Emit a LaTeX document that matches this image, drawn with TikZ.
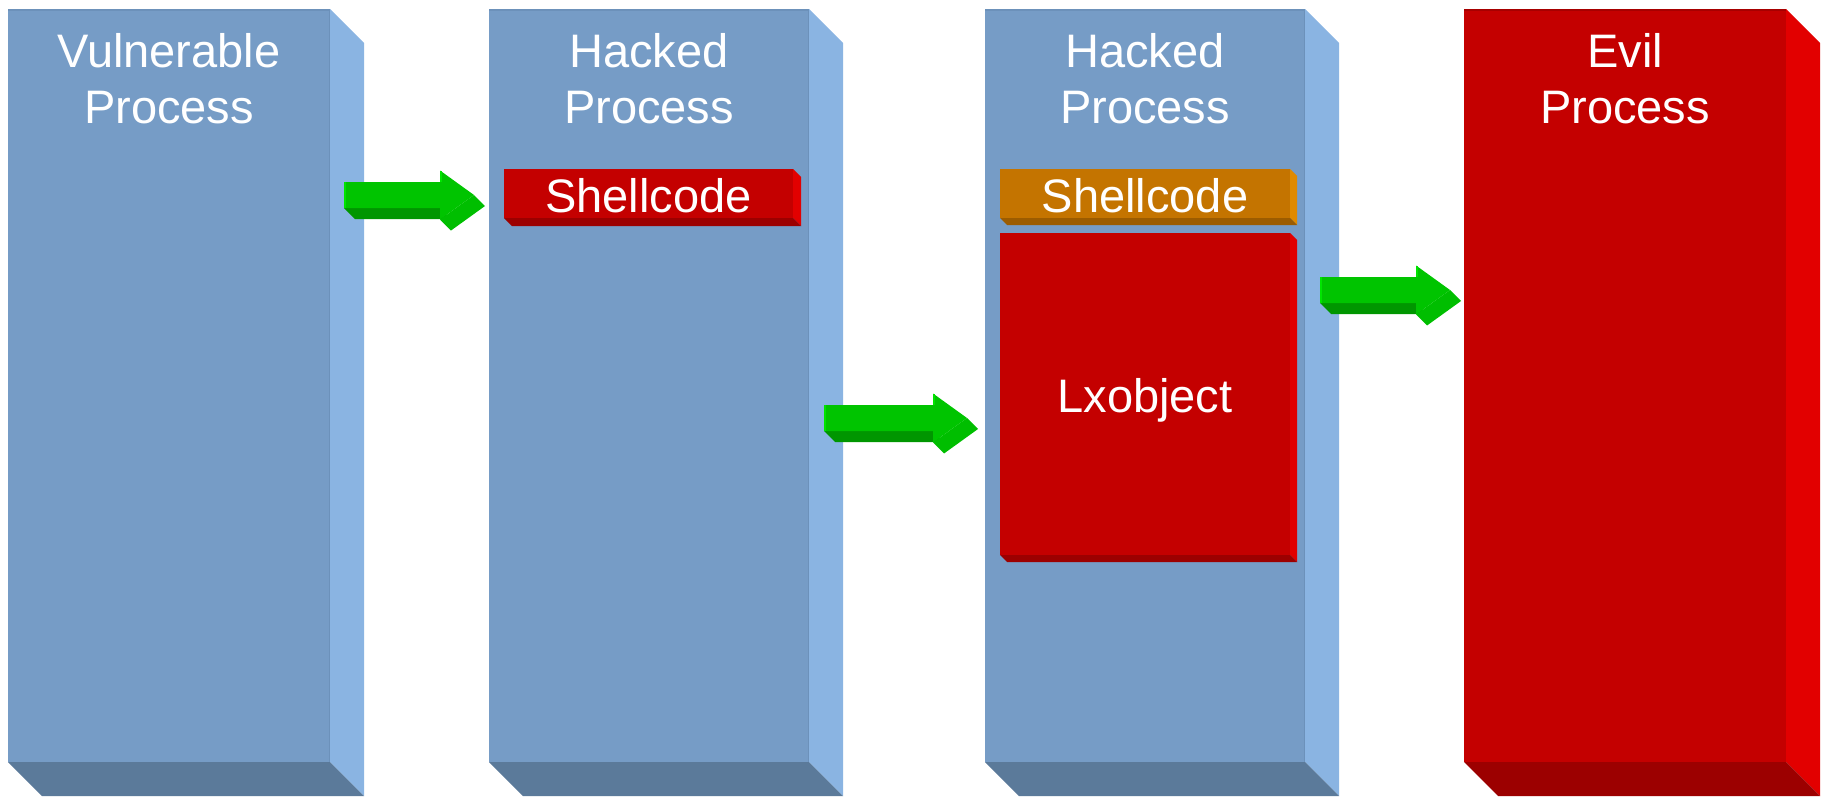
\documentclass[tikz,border=0pt]{standalone}
\usepackage{fontspec}
\setmainfont{Liberation Sans}
\definecolor{bfront}{HTML}{769CC6}
\definecolor{bside}{HTML}{8AB4E2}
\definecolor{bbot}{HTML}{5B7A9A}
\definecolor{bline}{HTML}{6C91BA}
\definecolor{rfront}{HTML}{C40000}
\definecolor{rside}{HTML}{E20000}
\definecolor{rbot}{HTML}{9C0000}
\definecolor{ofront}{HTML}{C47400}
\definecolor{oside}{HTML}{E08A00}
\definecolor{obot}{HTML}{9C5C00}
\definecolor{gfront}{HTML}{00C400}
\definecolor{gside}{HTML}{00BE00}
\definecolor{gbot}{HTML}{009600}
\definecolor{glight}{HTML}{00E400}
% #1 x1, #2 y1, #3 x2, #4 y2, #5 depth, #6 colour prefix
\newcommand\slab[6]{%
  \fill[#6side] (#3,#2) -- (#3+#5,#2+#5) -- (#3+#5,#4+#5) -- (#3,#4) -- cycle;
  \fill[#6bot] (#1,#4) -- (#3,#4) -- (#3+#5,#4+#5) -- (#1+#5,#4+#5) -- cycle;
  \fill[#6front] (#1,#2) rectangle (#3,#4);
}
% #1 shaft left x, #2 head base x, #3 shaft top y
\newcommand\garrow[3]{%
  \fill[gbot] (#1,#3+26) -- (#2,#3+26) -- (#2+11,#3+37) -- (#1+11,#3+37) -- cycle;
  \fill[gside] (#2+34,#3+13) -- (#2+45,#3+24) -- (#2+11,#3+48.5) -- (#2,#3+37.5) -- cycle;
  \fill[gfront] (#1,#3) -- (#2,#3) -- (#2,#3-11.5) -- (#2+34,#3+13) -- (#2,#3+37.5) -- (#2,#3+26) -- (#1,#3+26) -- cycle;
  \draw[glight, line width=1.5pt] (#1+0.75,#3) -- (#1+0.75,#3+26);
  \draw[glight, line width=1.5pt] (#2+0.75,#3-11) -- (#2+0.75,#3);
}
\tikzset{
  title/.style={text=white, align=center, anchor=base, inner sep=0pt,
    font=\fontsize{47}{56}\selectfont},
  label/.style={text=white, anchor=base, inner sep=0pt,
    font=\fontsize{47}{56}\selectfont}
}
\begin{document}
\begin{tikzpicture}[x=1pt, y=-1pt]
\useasboundingbox (0,0) rectangle (1825,796);
% process boxes
\slab{8}{9}{330}{762}{34}{b}
\slab{489}{9}{809}{762}{34}{b}
\slab{985}{9}{1305}{762}{34}{b}
\slab{1464}{9}{1786}{762}{34}{r}
\foreach \a/\b in {8/330, 489/809, 985/1305}{
  \draw[bline, line width=2pt] (\a,10) -- (\b,10);
  \draw[bline, line width=1.5pt] (\b-0.75,10) -- (\b-0.75,762);
}
\draw[rfront!85!black, line width=2pt] (1464,10) -- (1786,10);
% titles (base = baseline of the last line)
\node[title] (t1) at (169,123) {Vulnerable\\Process};
\node[title] (t2) at (649,123) {Hacked\\Process};
\node[title] (t3) at (1145,123) {Hacked\\Process};
\node[title] (t4) at (1625,123) {Evil\\Process};
% inner blocks
\slab{504}{169}{793}{218}{8}{r}
\slab{1000}{169}{1290}{218}{7}{o}
\slab{1000}{233}{1290}{555}{7}{r}
\node[label] (s1) at (648.5,212) {Shellcode};
\node[label] (s2) at (1145,212) {Shellcode};
\node[label] (lx) at (1145,412) {Lxobject};
% arrows
\garrow{344}{440}{182}
\garrow{824}{933}{405}
\garrow{1320}{1416}{277}
\end{tikzpicture}
\end{document}
